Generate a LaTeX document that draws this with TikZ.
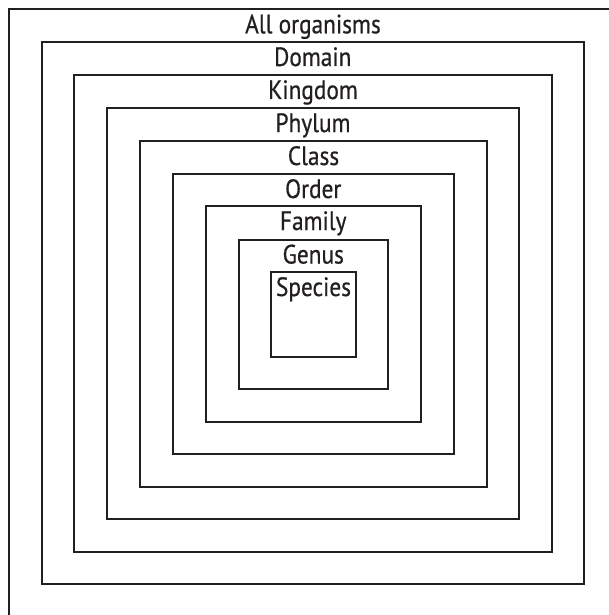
\documentclass[tikz,border=0pt]{standalone}
\usepackage{fontspec}
\setmainfont[FakeStretch=0.88,FakeBold=0.6]{PT Sans}
\definecolor{ink}{HTML}{231F20}
\begin{document}
\begin{tikzpicture}[x=1pt,y=-1pt,
  frame/.style={draw=ink,line width=2pt},
  lab/.style={anchor=base,inner sep=0pt,text=ink,font=\fontsize{26.5}{29}\selectfont}]
\useasboundingbox (0,0) rectangle (609,615);
\draw[frame] (8.5,615) -- (8.5,9) -- (609,9);
\node[lab] (all) at (313,33.3) {All organisms};
\foreach \xa/\ya/\xb/\yb/\name/\txt in {
  41.5/42/584/584/domain/Domain,
  74/75/552/552/kingdom/Kingdom,
  107/108/519/519/phylum/Phylum,
  140/141/487/487/class/Class,
  173/174/453.5/454/order/Order,
  205.5/206/421/422/family/Family,
  238.5/239.5/388/388.5/genus/Genus,
  271/272/356/357/species/Species}{
  \draw[frame] (\xa,\ya) rectangle (\xb,\yb);
  \node[lab] (\name) at ({(\xa+\xb)/2},{\ya+24}) {\txt};
}
\end{tikzpicture}
\end{document}
